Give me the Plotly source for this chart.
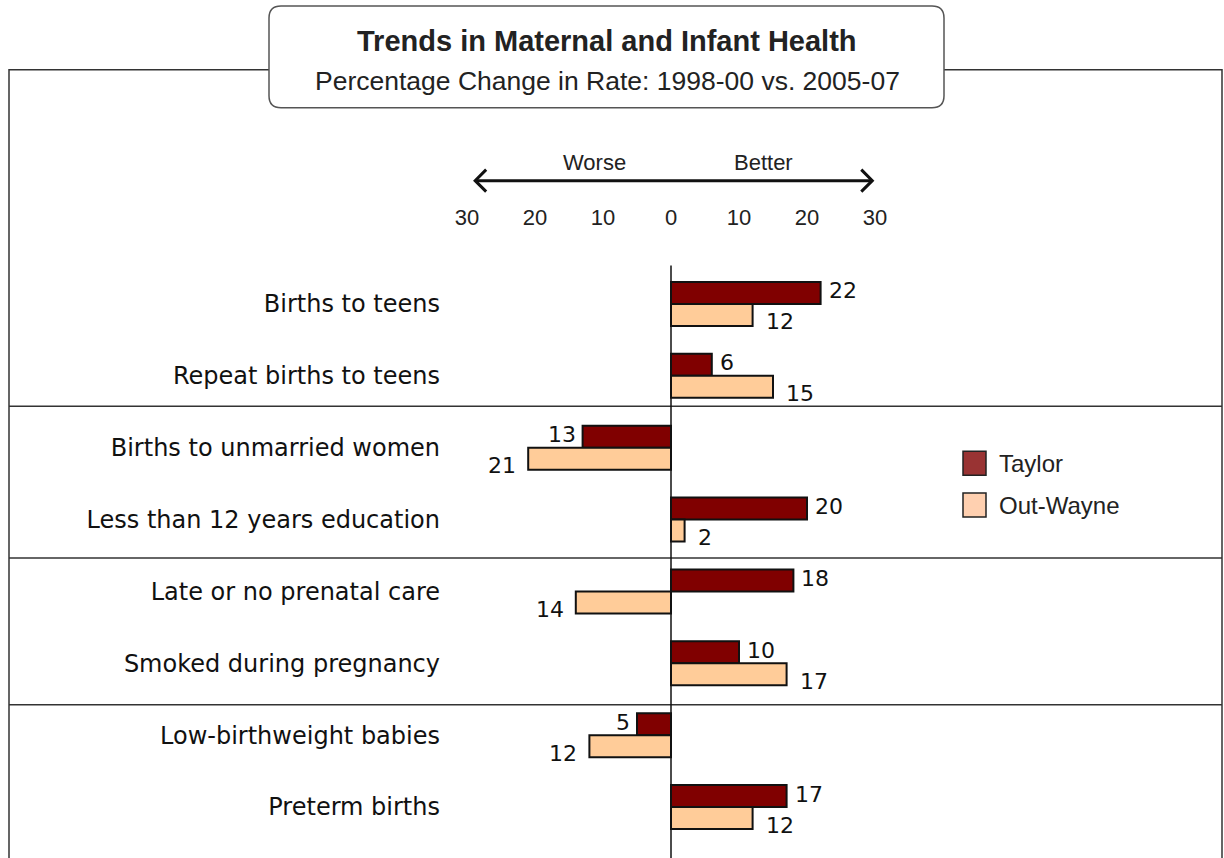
import plotly.graph_objects as go

# ---------------- data ----------------
categories = [
    "Births to teens",
    "Repeat births to teens",
    "Births to unmarried women",
    "Less than 12 years education",
    "Late or no prenatal care",
    "Smoked during pregnancy",
    "Low-birthweight babies",
    "Preterm births",
]
taylor = [22, 6, -13, 20, 18, 10, -5, 17]
out_wayne = [12, 15, -21, 2, -14, 17, -12, 12]
series_names = ["Taylor", "Out-Wayne"]
tick_values = [-30, -20, -10, 0, 10, 20, 30]
tick_labels = ["30", "20", "10", "0", "10", "20", "30"]
title_text = "Trends in Maternal and Infant Health"
subtitle_text = "Percentage Change in Rate: 1998-00 vs. 2005-07"

# ---------------- layout geometry (page pixels) ----------------
FIG_W, FIG_H = 1224, 858
PL, PR, PT, PB = 467, 875, 267.5, 843.5


def px2x(px):
    return (px - PL) / (PR - PL)


def py2y(py):
    return (PB - py) / (PB - PT)


taylor_fill = "#800000"
ow_fill = "#FFCC99"
label_font = "DejaVu Sans"
sans = "Liberation Sans, Arial, sans-serif"

fig = go.Figure()
fig.add_trace(go.Bar(
    y=categories, x=taylor, name=series_names[0], orientation="h",
    marker=dict(color=taylor_fill, line=dict(color="#111111", width=2)),
    showlegend=False,
))
fig.add_trace(go.Bar(
    y=categories, x=out_wayne, name=series_names[1], orientation="h",
    marker=dict(color=ow_fill, line=dict(color="#111111", width=2)),
    showlegend=False,
))

annotations = []
# value labels
for cat, v in zip(categories, taylor):
    annotations.append(dict(
        x=v, y=cat, xref="x", yref="y", text=str(abs(v)), showarrow=False,
        xanchor="left" if v >= 0 else "right", xshift=6 if v >= 0 else -5,
        yshift=13, font=dict(family=label_font, size=22, color="#111111"),
    ))
for cat, v in zip(categories, out_wayne):
    annotations.append(dict(
        x=v, y=cat, xref="x", yref="y", text=str(abs(v)), showarrow=False,
        xanchor="left" if v >= 0 else "right", xshift=11 if v >= 0 else -10,
        yshift=-18, font=dict(family=label_font, size=22, color="#111111"),
    ))

# title & subtitle
annotations.append(dict(
    x=px2x(607), y=py2y(40), xref="paper", yref="paper", text="<b>" + title_text + "</b>",
    showarrow=False, xanchor="center", yanchor="middle",
    font=dict(family=sans, size=29, color="#222222"),
))
annotations.append(dict(
    x=px2x(607), y=py2y(80), xref="paper", yref="paper", text=subtitle_text,
    showarrow=False, xanchor="center", yanchor="middle",
    font=dict(family=sans, size=26.5, color="#222222"),
))
# Worse / Better
annotations.append(dict(
    x=-11.2, y=py2y(162), xref="x", yref="paper", text="Worse", showarrow=False,
    xanchor="center", yanchor="middle", font=dict(family=sans, size=22, color="#222222"),
))
annotations.append(dict(
    x=13.6, y=py2y(162), xref="x", yref="paper", text="Better", showarrow=False,
    xanchor="center", yanchor="middle", font=dict(family=sans, size=22, color="#222222"),
))
# legend text
legend_swatch = ["#993333", "#FFD0B0"]
legend_y = [463, 505]
for name, yy in zip(series_names, legend_y):
    annotations.append(dict(
        x=px2x(997), y=py2y(yy), xref="paper", yref="paper", text=name, showarrow=False,
        xanchor="left", yanchor="middle", font=dict(family=sans, size=24, color="#222222"),
    ))

shapes = []
# outer frame
shapes.append(dict(type="rect", xref="paper", yref="paper",
                   x0=px2x(9), x1=px2x(1222), y0=py2y(870), y1=py2y(69),
                   line=dict(color="#333333", width=1.5), fillcolor="rgba(0,0,0,0)", layer="below"))
# separators
for sy in [406, 558, 705]:
    shapes.append(dict(type="line", xref="paper", yref="paper",
                       x0=px2x(9), x1=px2x(1222), y0=py2y(sy), y1=py2y(sy),
                       line=dict(color="#333333", width=1.5), layer="below"))
# zero line
shapes.append(dict(type="line", xref="x", yref="paper", x0=0, x1=0,
                   y0=py2y(265), y1=py2y(870), line=dict(color="#111111", width=1.5), layer="below"))

# title box (rounded)
bx0, bx1, by0, by1, r = 269, 944, 5, 107, 12
pts = (
    f"M {px2x(bx0 + r)},{py2y(by0)} L {px2x(bx1 - r)},{py2y(by0)} "
    f"Q {px2x(bx1)},{py2y(by0)} {px2x(bx1)},{py2y(by0 + r)} "
    f"L {px2x(bx1)},{py2y(by1 - r)} Q {px2x(bx1)},{py2y(by1)} {px2x(bx1 - r)},{py2y(by1)} "
    f"L {px2x(bx0 + r)},{py2y(by1)} Q {px2x(bx0)},{py2y(by1)} {px2x(bx0)},{py2y(by1 - r)} "
    f"L {px2x(bx0)},{py2y(by0 + r)} Q {px2x(bx0)},{py2y(by0)} {px2x(bx0 + r)},{py2y(by0)} Z"
)
shapes.append(dict(type="path", xref="paper", yref="paper", path=pts,
                   line=dict(color="#555555", width=1.5), fillcolor="white", layer="above"))

# double arrow Worse <-> Better
ay = py2y(180)
arm_x = 11 / 6.8
arm_y = 11 / (PB - PT)
xl, xr = -28.8, 29.6
shapes.append(dict(type="line", xref="x", yref="paper", x0=xl + 0.2, x1=xr - 0.2, y0=ay, y1=ay,
                   line=dict(color="#111111", width=3)))
shapes.append(dict(type="path", xref="x", yref="paper",
                   path=f"M {xl + arm_x},{ay + arm_y} L {xl},{ay} L {xl + arm_x},{ay - arm_y}",
                   line=dict(color="#111111", width=3)))
shapes.append(dict(type="path", xref="x", yref="paper",
                   path=f"M {xr - arm_x},{ay + arm_y} L {xr},{ay} L {xr - arm_x},{ay - arm_y}",
                   line=dict(color="#111111", width=3)))

# legend swatches
for col, yy in zip(legend_swatch, legend_y):
    shapes.append(dict(type="rect", xref="paper", yref="paper",
                       x0=px2x(963), x1=px2x(986), y0=py2y(yy + 12), y1=py2y(yy - 12),
                       line=dict(color="#222222", width=1.5), fillcolor=col))

fig.update_layout(
    width=FIG_W, height=FIG_H,
    margin=dict(l=PL, r=FIG_W - PR, t=PT, b=FIG_H - PB, pad=0),
    paper_bgcolor="white", plot_bgcolor="white",
    barmode="group", bargap=0.389, bargroupgap=0,
    showlegend=False, hovermode=False,
    annotations=annotations, shapes=shapes,
    xaxis=dict(range=[-30, 30], side="top", tickvals=tick_values, ticktext=tick_labels,
               showgrid=False, zeroline=False, showline=False, ticks="",
               ticklabelstandoff=38,
               tickfont=dict(family=sans, size=22, color="#222222")),
    yaxis=dict(categoryorder="array", categoryarray=categories, range=[7.5, -0.5],
               showgrid=False, zeroline=False, showline=False, ticks="",
               ticklabelstandoff=26,
               tickfont=dict(family=label_font, size=24, color="#111111")),
)

fig.write_html(
    "out.html",
    config={"displayModeBar": False, "staticPlot": True},
    post_script="document.body.style.margin='0px';document.body.style.overflow='hidden';",
)
